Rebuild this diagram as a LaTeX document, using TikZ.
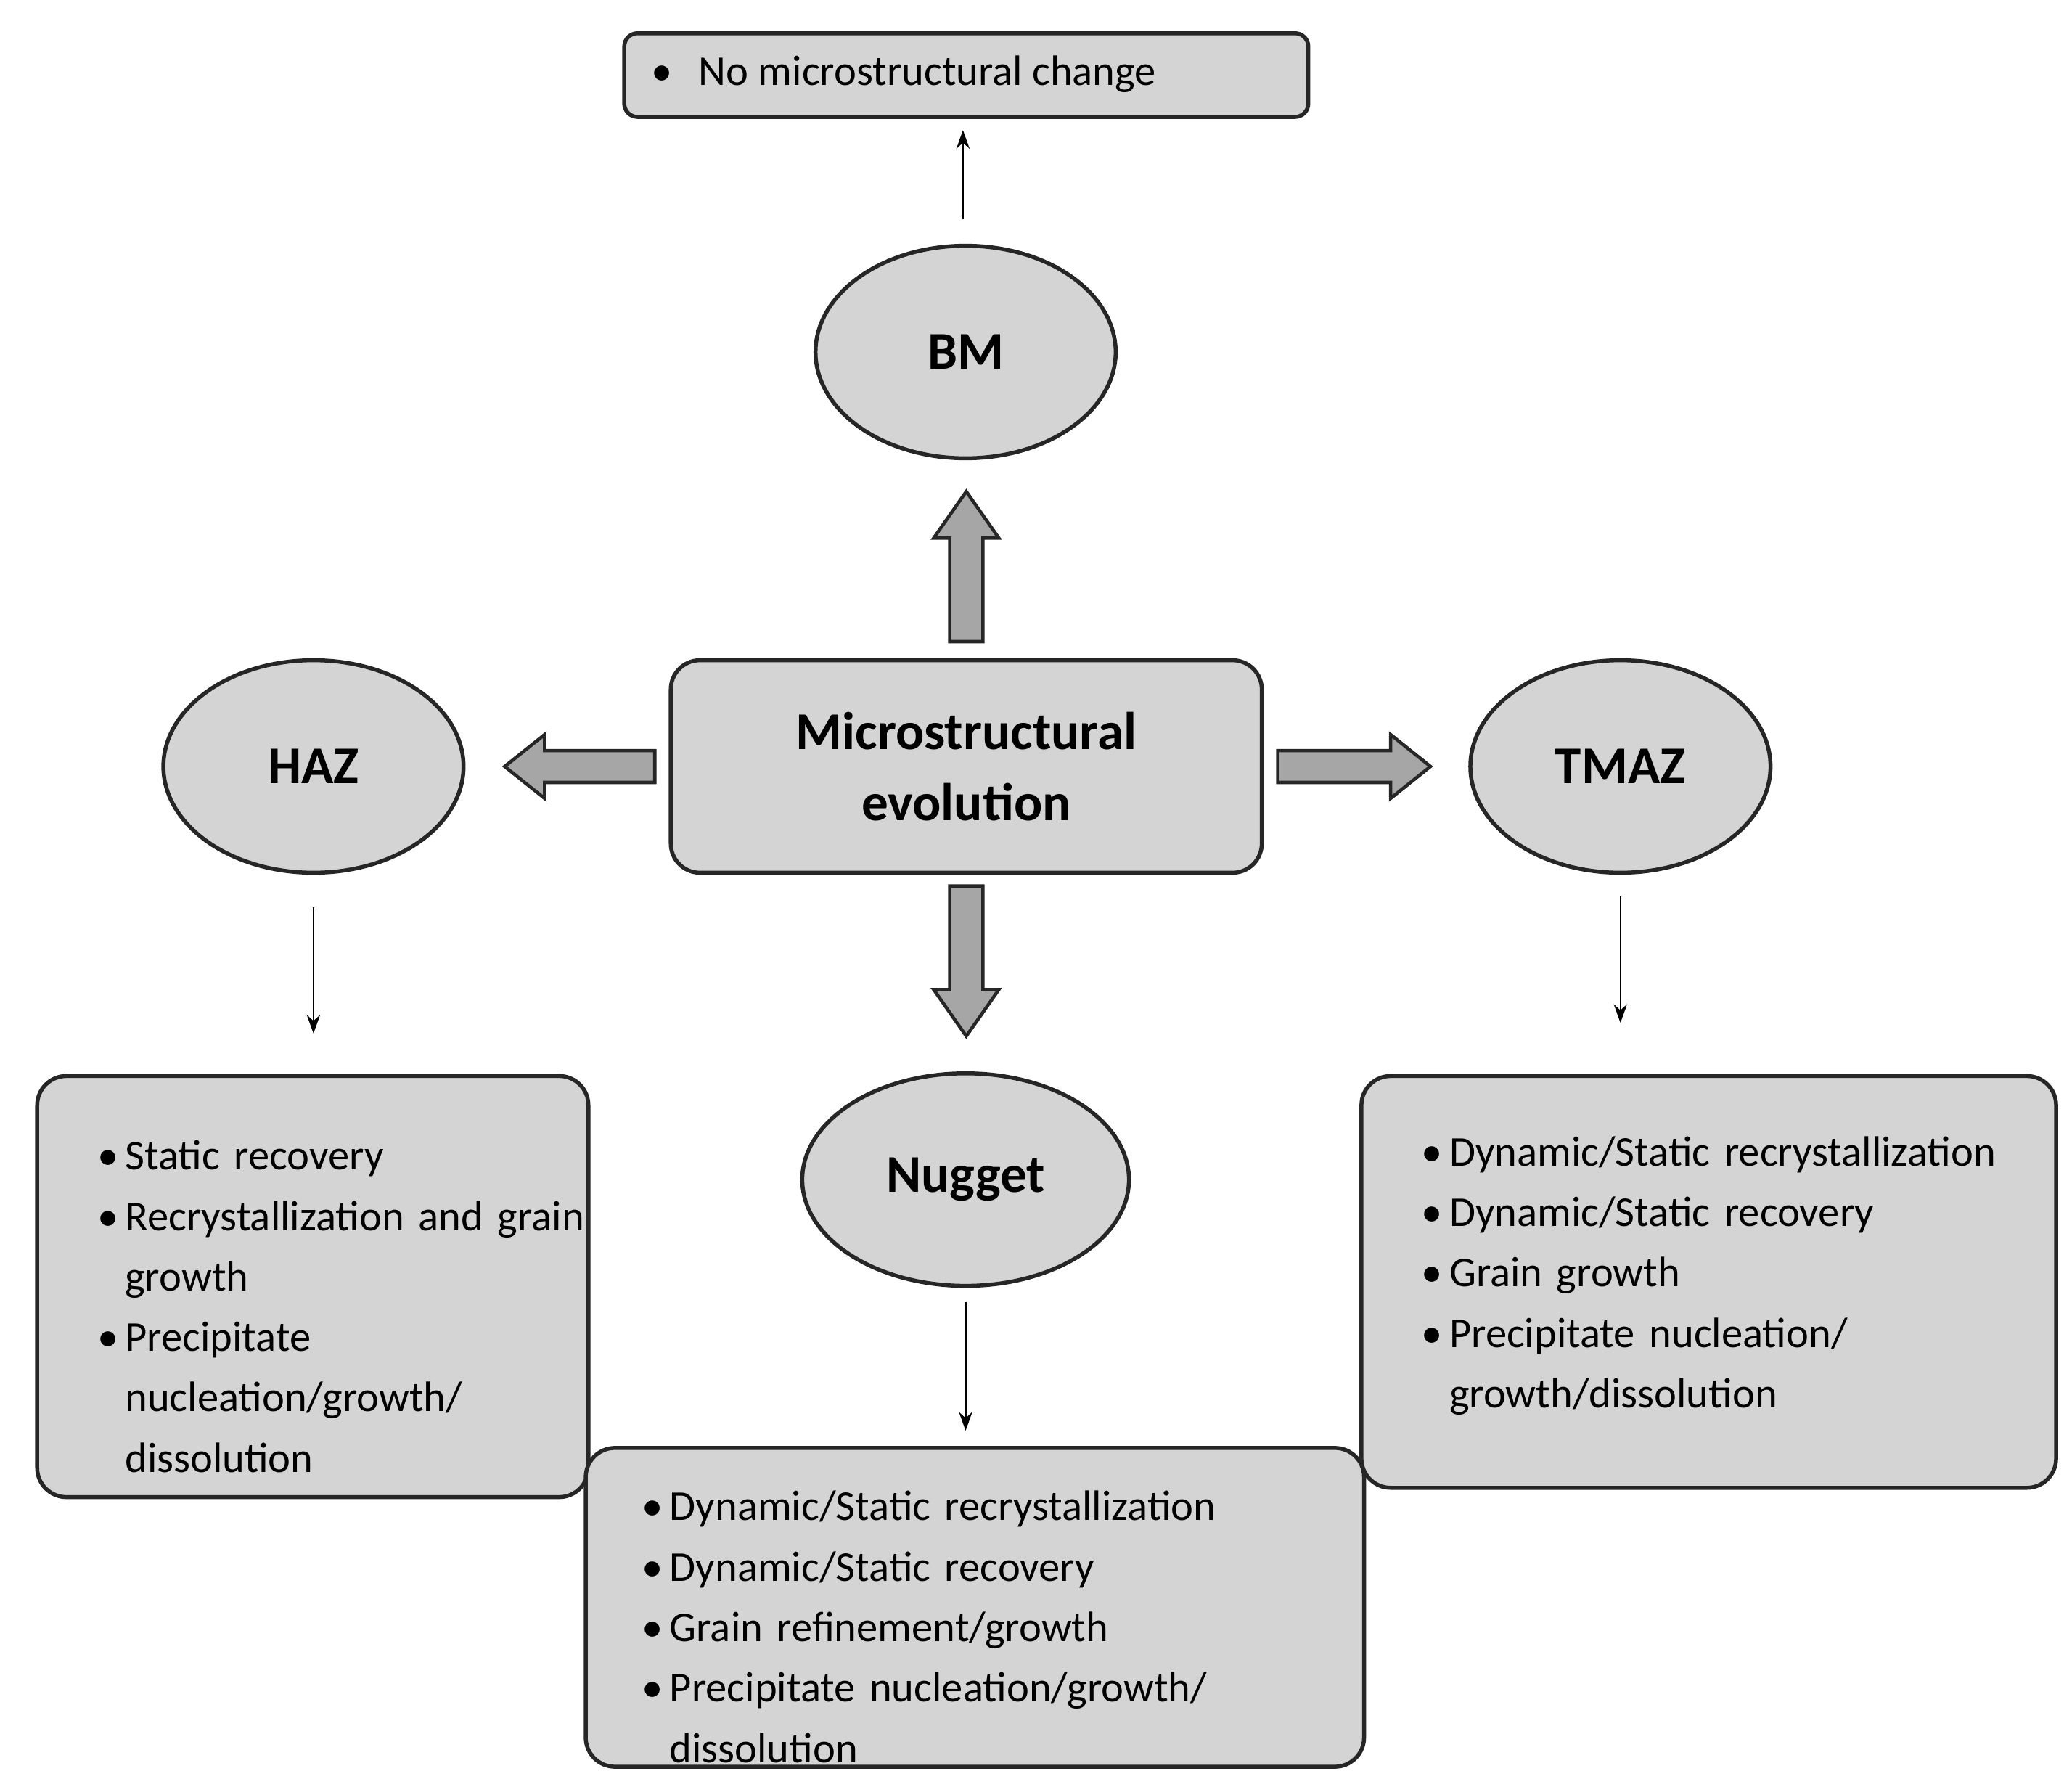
\documentclass[tikz,border=0pt]{standalone}
\usepackage{fontspec}
\setmainfont{Carlito}
\usepackage{enumitem}
\usetikzlibrary{arrows.meta,shapes.geometric}
\definecolor{boxgray}{HTML}{D4D4D4}
\definecolor{arrgray}{HTML}{A6A6A6}
\begin{document}
\begin{tikzpicture}[x=1pt,y=-1pt,
  box/.style={draw=black!85,line width=3pt,fill=boxgray,rounded corners=22pt,inner sep=0pt},
  ell/.style={draw=black!85,line width=3pt,fill=boxgray,ellipse,inner sep=0pt,font=\fontsize{40}{48}\selectfont\bfseries},
  thin/.style={-{Stealth[length=14pt,width=10pt]},line width=1.3pt},
  blk/.style={draw=black!85,line width=2.5pt,fill=arrgray,line join=miter},
  txt/.style={font=\fontsize{32}{45.5}\selectfont,align=left,inner sep=0pt}]
\useasboundingbox (0,0) rectangle (1560,1345);
\newcommand{\blist}[1]{\begin{itemize}[leftmargin=34pt,nosep,label=\textbullet]#1\end{itemize}}
% boxes
\node[box,rounded corners=10pt,minimum width=515pt,minimum height=63pt] (top) at (727.5,56.5) {};
\node[txt,anchor=west] (toptxt) at (490,56) {\textbullet\hspace{20pt}No microstructural change};
\node[box,minimum width=445pt,minimum height=160pt] (c) at (727.5,577) {};
\node[font=\fontsize{40}{54}\selectfont\bfseries,align=center] (ctxt) at (727.5,577) {Microstructural\\evolution};
\node[ell,minimum width=226pt,minimum height=160pt] (bm) at (727,265) {BM};
\node[ell,minimum width=226pt,minimum height=160pt] (haz) at (236,577) {HAZ};
\node[ell,minimum width=226pt,minimum height=160pt] (tmaz) at (1220,577) {TMAZ};
\node[ell,minimum width=246pt,minimum height=160pt] (nug) at (727,888) {Nugget};
\node[box,minimum width=415pt,minimum height=317pt] (hb) at (235.5,968.5) {};
\node[txt,text width=380pt,anchor=north west] at (60,835) {\blist{\item Static recovery \item Recrystallization and grain growth \item Precipitate nucleation/growth/ dissolution}};
\node[box,minimum width=523pt,minimum height=310pt] (tb) at (1286.5,965) {};
\node[txt,text width=460pt,anchor=north west] at (1057,832) {\blist{\item Dynamic/Static recrystallization \item Dynamic/Static recovery \item Grain growth \item Precipitate nucleation/ growth/dissolution}};
\node[box,minimum width=586pt,minimum height=240pt] (nb) at (734,1210) {};
\node[txt,text width=560pt,anchor=north west] at (470,1099) {\blist{\item Dynamic/Static recrystallization \item Dynamic/Static recovery \item Grain refinement/growth \item Precipitate nucleation/growth/ dissolution}};
% thin arrows
\coordinate (a1) at (725,165); \coordinate (a2) at (725,98);
\draw[thin] (a1) -- (a2);
\coordinate (h1) at (236,683); \coordinate (h2) at (236,778);
\draw[thin] (h1) -- (h2);
\coordinate (t1) at (1220,675); \coordinate (t2) at (1220,770);
\draw[thin] (t1) -- (t2);
\coordinate (n1) at (727,980); \coordinate (n2) at (727,1077);
\draw[thin] (n1) -- (n2);
% block arrows
\draw[blk] (715,483) -- (715,405) -- (703,405) -- (727.5,370) -- (752,405) -- (740,405) -- (740,483) -- cycle;
\draw[blk] (715,667) -- (715,745) -- (703,745) -- (727.5,780) -- (752,745) -- (740,745) -- (740,667) -- cycle;
\draw[blk] (493,565) -- (410,565) -- (410,553) -- (380,577) -- (410,601) -- (410,589) -- (493,589) -- cycle;
\draw[blk] (962,565) -- (1047,565) -- (1047,553) -- (1077,577) -- (1047,601) -- (1047,589) -- (962,589) -- cycle;
\end{tikzpicture}
\end{document}
